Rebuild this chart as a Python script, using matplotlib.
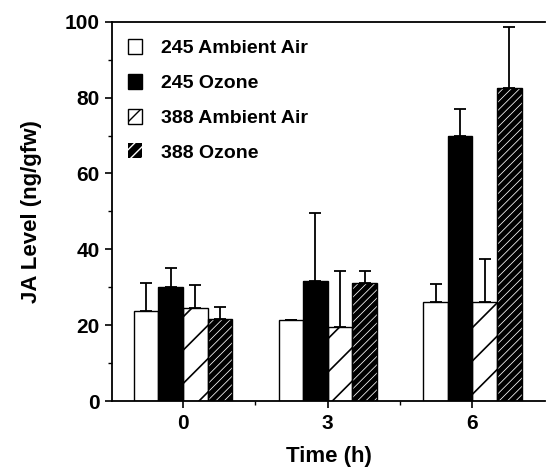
import numpy as np
import matplotlib

matplotlib.use("Agg")
import matplotlib.pyplot as plt
from matplotlib.patches import Patch

plt.rcParams["font.family"] = ["Liberation Sans Narrow", "Liberation Sans", "DejaVu Sans"]
plt.rcParams["font.weight"] = "bold"

# données
times = [0, 3, 6]
series = ["245 Ambient Air", "245 Ozone", "388 Ambient Air", "388 Ozone"]
means = {
    "245 Ambient Air": [23.7, 21.4, 26.1],
    "245 Ozone": [30.0, 31.7, 69.9],
    "388 Ambient Air": [24.5, 19.5, 26.1],
    "388 Ozone": [21.6, 31.1, 82.6],
}
errs = {
    "245 Ambient Air": [7.3, 0.0, 4.8],
    "245 Ozone": [5.0, 17.9, 7.1],
    "388 Ambient Air": [6.1, 14.8, 11.4],
    "388 Ozone": [3.2, 3.2, 16.1],
}

# style : (face, hatch, couleur hachure, épaisseur hachure)
styles = {
    "245 Ambient Air": ("white", None, "black", 1.0),
    "245 Ozone": ("black", None, "black", 1.0),
    "388 Ambient Air": ("white", "/", "black", 1.2),
    "388 Ozone": ("black", "////", "white", 0.55),
}

fig = plt.figure(figsize=(5.47, 4.74), dpi=100)
ax = fig.add_axes([0.205, 0.154, 0.791, 0.80])

width = 0.51
x = np.array(times, dtype=float)
handles = []
for i, name in enumerate(series):
    pos = x + (i - 1.5) * width
    face, hatch, hcol, hlw = styles[name]
    with plt.rc_context({"hatch.linewidth": hlw}):
        ax.bar(pos, means[name], width, color=face, edgecolor=hcol, hatch=hatch,
               linewidth=0, zorder=2)
        if name == "388 Ozone":
            handles.append(Patch(facecolor="black", edgecolor="white",
                                 hatch="///", linewidth=0))
        else:
            handles.append(Patch(facecolor=face, edgecolor="black",
                                 hatch="//" if hatch else None, linewidth=1.0))
    ax.bar(pos, means[name], width, fill=False, edgecolor="black",
           linewidth=1.0, zorder=3)
    ax.errorbar(pos, means[name], yerr=[np.zeros(3), errs[name]], fmt="none",
                ecolor="black", elinewidth=1.3, capsize=4.5, capthick=1.3,
                zorder=1)

ax.set_xlim(-1.47, 7.5)
ax.set_ylim(0, 100)
ax.set_xticks([0, 3, 6])
ax.set_xticks([1.5, 4.5], minor=True)
ax.set_yticks(range(0, 101, 20))
ax.set_yticks(range(10, 100, 20), minor=True)
ax.tick_params(axis="both", which="major", length=5, width=1.2, labelsize=15, pad=4)
ax.tick_params(axis="both", which="minor", length=3, width=1.0)
ax.spines["right"].set_visible(False)
for s in ["left", "top", "bottom"]:
    ax.spines[s].set_linewidth(1.3)

ax.set_xlabel("Time (h)", fontsize=16, fontweight="bold", labelpad=10)
ax.set_ylabel("JA Level (ng/gfw)", fontsize=16, fontweight="bold", labelpad=16)

ax.legend(handles, series, loc="upper left", frameon=False, fontsize=14,
          handlelength=0.7, handleheight=0.8, handletextpad=1.0,
          labelspacing=0.85, borderaxespad=0.3, bbox_to_anchor=(0.005, 0.99))

fig.savefig("out.png", dpi=100)
